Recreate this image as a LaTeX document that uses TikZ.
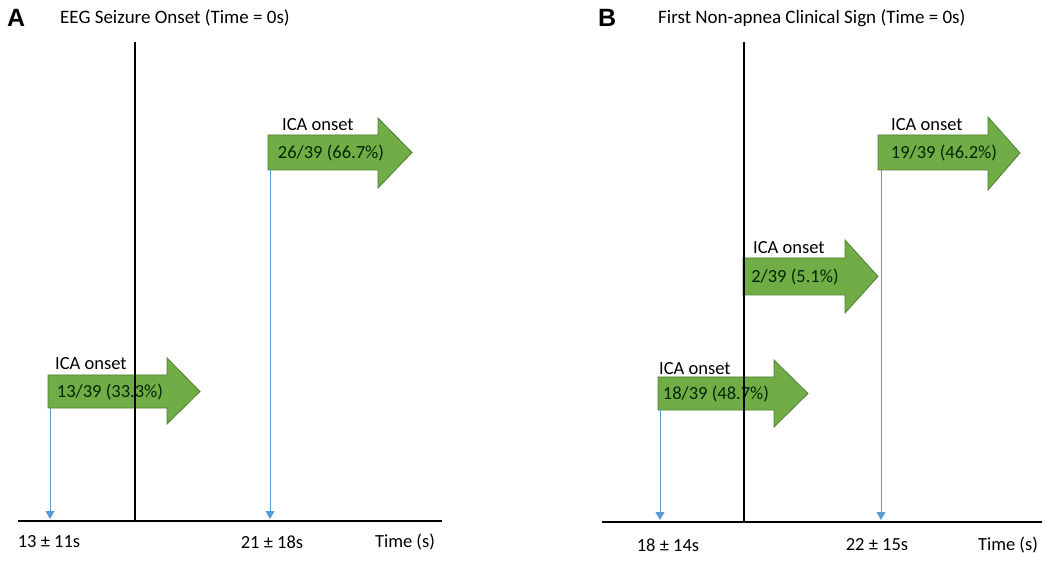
\documentclass[tikz,border=0pt]{standalone}
\usepackage{fontspec}
\setmainfont{Carlito}
\newfontfamily\letterfont{Liberation Sans}
\usetikzlibrary{arrows.meta}
\definecolor{arrgreen}{HTML}{70AD47}
\definecolor{arrdark}{HTML}{4F7F30}
\definecolor{lineblue}{HTML}{5B9BD5}
\tikzset{
  bigarrow/.style={fill=arrgreen, draw=arrdark, line width=0.8pt, line join=miter},
  axisline/.style={draw=black, line width=1.8pt},
  dropline/.style={draw=lineblue, line width=0.9pt, -{Triangle[length=8pt,width=9pt]}},
  lbl/.style={font=\fontsize{18.5}{20}\selectfont, inner sep=0pt},
  num/.style={font=\fontsize{18.5}{20}\selectfont, inner sep=0pt, text=black!85!green},
  ttl/.style={font=\fontsize{19}{21}\selectfont, inner sep=0pt, anchor=west},
  letter/.style={font=\letterfont\bfseries\fontsize{25}{27}\selectfont, inner sep=0pt, anchor=west}
}
\begin{document}
\begin{tikzpicture}[x=1pt,y=-1pt]
\useasboundingbox (0,0) rectangle (1050,561);
% ---------- Panel A ----------
\node[letter] (A) at (7,18) {A};
\node[ttl] (tA) at (60,18) {EEG Seizure Onset (Time = 0s)};
\coordinate (a0) at (135,42);
\coordinate (a1) at (135,521);
\coordinate (axA1) at (18,521);
\coordinate (axA2) at (442,521);
% arrow A1
\draw[bigarrow] (48,375) -- (167,375) -- (167,358) -- (200,391.5) -- (167,424) -- (167,408) -- (48,408) -- cycle;
\coordinate (A1b) at (50,408);
\node[lbl, anchor=west] (A1t) at (55,364) {ICA onset};
\node[num] (A1n) at (110,392) {13/39 (33.3\%)};
% arrow A2
\draw[bigarrow] (268,135) -- (378,135) -- (378,118) -- (412,152.5) -- (378,188) -- (378,170) -- (268,170) -- cycle;
\coordinate (A2b) at (270,170);
\node[lbl, anchor=west] (A2t) at (282,125) {ICA onset};
\node[num] (A2n) at (331,153) {26/39 (66.7\%)};
\draw[axisline] (a0) -- (a1);
\draw[axisline] (axA1) -- (axA2);
\coordinate (A1e) at (50,519);
\coordinate (A2e) at (270,519);
\draw[dropline] (A1b) -- (A1e);
\draw[dropline] (A2b) -- (A2e);
\node[lbl] (A1v) at (49,542) {13 ± 11s};
\node[lbl] (A2v) at (272,542) {21 ± 18s};
\node[lbl] (Atime) at (405,542) {Time (s)};
% ---------- Panel B ----------
\node[letter] (B) at (598,18) {B};
\node[ttl] (tB) at (658,18) {First Non-apnea Clinical Sign (Time = 0s)};
\coordinate (b0) at (744,42);
\coordinate (b1) at (744,523);
\coordinate (axB1) at (602,522);
\coordinate (axB2) at (1042,522);
% arrow B1 (bottom)
\draw[bigarrow] (658,377) -- (774,377) -- (774,360) -- (808,393.5) -- (774,427) -- (774,410) -- (658,410) -- cycle;
\coordinate (B1b) at (660,410);
\node[lbl, anchor=west] (B1t) at (659,369) {ICA onset};
\node[num] (B1n) at (716,394) {18/39 (48.7\%)};
% arrow B2 (middle)
\draw[bigarrow] (743,258) -- (845,258) -- (845,240) -- (878,276.5) -- (845,313) -- (845,295) -- (743,295) -- cycle;
\node[lbl, anchor=west] (B2t) at (753,248) {ICA onset};
\node[num] (B2n) at (795,277) {2/39 (5.1\%)};
% arrow B3 (top)
\draw[bigarrow] (878,135) -- (988,135) -- (988,117) -- (1020,153) -- (988,190) -- (988,170) -- (878,170) -- cycle;
\coordinate (B3b) at (881,170);
\node[lbl, anchor=west] (B3t) at (891,125) {ICA onset};
\node[num] (B3n) at (944,153) {19/39 (46.2\%)};
\draw[axisline] (b0) -- (b1);
\draw[axisline] (axB1) -- (axB2);
\coordinate (B1e) at (660,520);
\coordinate (B3e) at (881,520);
\draw[dropline] (B1b) -- (B1e);
\draw[dropline] (B3b) -- (B3e);
\node[lbl] (B1v) at (668,545) {18 ± 14s};
\node[lbl] (B3v) at (877,545) {22 ± 15s};
\node[lbl] (Btime) at (1008,545) {Time (s)};
\end{tikzpicture}
\end{document}
